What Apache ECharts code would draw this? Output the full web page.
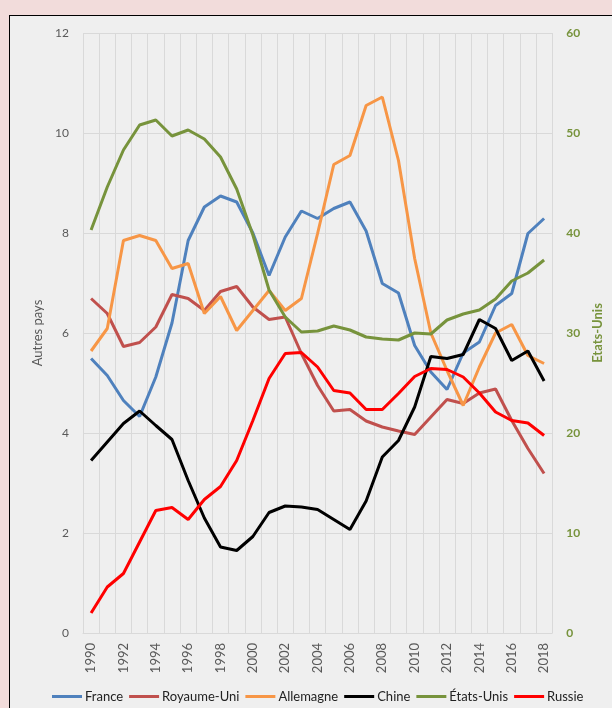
<!DOCTYPE html>
<html>
<head>
<meta charset="utf-8" />
<title></title>
<style>
  html, body { margin: 0; padding: 0; background: #f2dcdb; }
  #frame { position: absolute; left: 9px; top: 15px; width: 700px; height: 800px;
           background: #efefef; border: 1px solid #000; }
  #main { position: absolute; left: 0; top: 0; width: 612px; height: 708px; }
</style>
</head>
<body>
<div id="frame"></div>
<div id="main"></div>
<script src="https://cdn.jsdelivr.net/npm/echarts@6/dist/echarts.min.js"></script>
<script type="text/javascript">
    var years = [];
    for (var y = 1990; y <= 2018; y++) years.push(String(y));

    var france = [5.49, 5.15, 4.65, 4.33, 5.12, 6.2, 7.85, 8.52, 8.74, 8.62, 8.0, 7.15, 7.92, 8.44, 8.29,
        8.49, 8.62, 8.04, 6.99, 6.8, 5.75, 5.22, 4.87, 5.6, 5.82, 6.55, 6.79, 7.99, 8.29];
    var royaumeUni = [6.69, 6.39, 5.73, 5.81, 6.12, 6.77, 6.69, 6.45, 6.83, 6.93, 6.52, 6.27, 6.32, 5.59, 4.95,
        4.44, 4.47, 4.24, 4.12, 4.04, 3.97, 4.32, 4.67, 4.59, 4.8, 4.88, 4.25, 3.69, 3.19];
    var allemagne = [5.64, 6.09, 7.85, 7.95, 7.85, 7.29, 7.39, 6.39, 6.73, 6.05, 6.45, 6.85, 6.45, 6.69, 7.99,
        9.37, 9.55, 10.55, 10.72, 9.45, 7.49, 6.0, 5.25, 4.55, 5.32, 6.0, 6.17, 5.55, 5.39];
    var chine = [3.45, 3.82, 4.19, 4.44, 4.15, 3.87, 3.05, 2.3, 1.72, 1.65, 1.93, 2.41, 2.54, 2.52, 2.47,
        2.27, 2.07, 2.64, 3.52, 3.85, 4.52, 5.53, 5.49, 5.57, 6.27, 6.09, 5.45, 5.64, 5.04];
    var etatsUnis = [40.3, 44.6, 48.3, 50.8, 51.3, 49.7, 50.3, 49.4, 47.6, 44.4, 39.8, 34.3, 31.6, 30.1, 30.2,
        30.7, 30.3, 29.6, 29.4, 29.3, 30.0, 29.9, 31.3, 31.9, 32.3, 33.4, 35.2, 36.0, 37.3];
    var russie = [0.4, 0.92, 1.19, 1.82, 2.45, 2.51, 2.27, 2.67, 2.93, 3.45, 4.25, 5.09, 5.59, 5.61, 5.32,
        4.85, 4.8, 4.47, 4.47, 4.79, 5.13, 5.29, 5.27, 5.12, 4.8, 4.42, 4.25, 4.2, 3.95];

    var font = 'Lato, "Liberation Sans", sans-serif';
    var green = '#77933c';

    function line(name, data, color, axis) {
        return {
            name: name, type: 'line', data: data, yAxisIndex: axis || 0,
            symbol: 'none', lineStyle: { width: 3, color: color }, itemStyle: { color: color },
            z: 3
        };
    }

    var myChart = echarts.init(document.getElementById('main'));
    var option = {
        backgroundColor: 'transparent',
        animation: false,
        textStyle: { fontFamily: font },
        grid: { left: 83, right: 59, top: 33, bottom: 75 },
        legend: {
            bottom: 0, left: 47, icon: 'rect', itemWidth: 30, itemHeight: 3, itemGap: 6,
            textStyle: { fontSize: 13, color: '#222', fontFamily: font, padding: [0, 0, 0, -2] },
            data: ['France', 'Royaume-Uni', 'Allemagne', 'Chine', 'États-Unis', 'Russie']
        },
        xAxis: {
            type: 'category', data: years, boundaryGap: true,
            axisLine: { lineStyle: { color: '#d9d9d9', width: 1 } },
            axisTick: { show: false },
            axisLabel: { interval: 1, rotate: 90, margin: 10, color: '#595959', fontSize: 13 },
            splitLine: { show: true, interval: 0, lineStyle: { color: '#d9d9d9', width: 1 } }
        },
        yAxis: [{
            type: 'value', min: 0, max: 12, interval: 2,
            name: 'Autres pays', nameLocation: 'middle', nameGap: 29,
            nameTextStyle: { color: '#595959', fontSize: 13 },
            axisLine: { show: false }, axisTick: { show: false },
            axisLabel: { color: '#595959', fontSize: 12, margin: 14 },
            splitLine: { lineStyle: { color: '#d9d9d9', width: 1 } }
        }, {
            type: 'value', min: 0, max: 60, interval: 10,
            name: 'Etats-Unis', nameLocation: 'middle', nameGap: 38, nameRotate: 90,
            nameTextStyle: { color: green, fontSize: 13, fontWeight: 'bold' },
            axisLine: { show: false }, axisTick: { show: false },
            axisLabel: { color: green, fontSize: 12, fontWeight: 'bold', margin: 14 },
            splitLine: { show: false }
        }],
        series: [
            line('France', france, '#4f81bd'),
            line('Royaume-Uni', royaumeUni, '#c0504d'),
            line('Allemagne', allemagne, '#f79646'),
            line('Chine', chine, '#000000'),
            line('États-Unis', etatsUnis, green, 1),
            line('Russie', russie, '#ff0000')
        ]
    };
    myChart.setOption(option);
</script>
</body>
</html>
